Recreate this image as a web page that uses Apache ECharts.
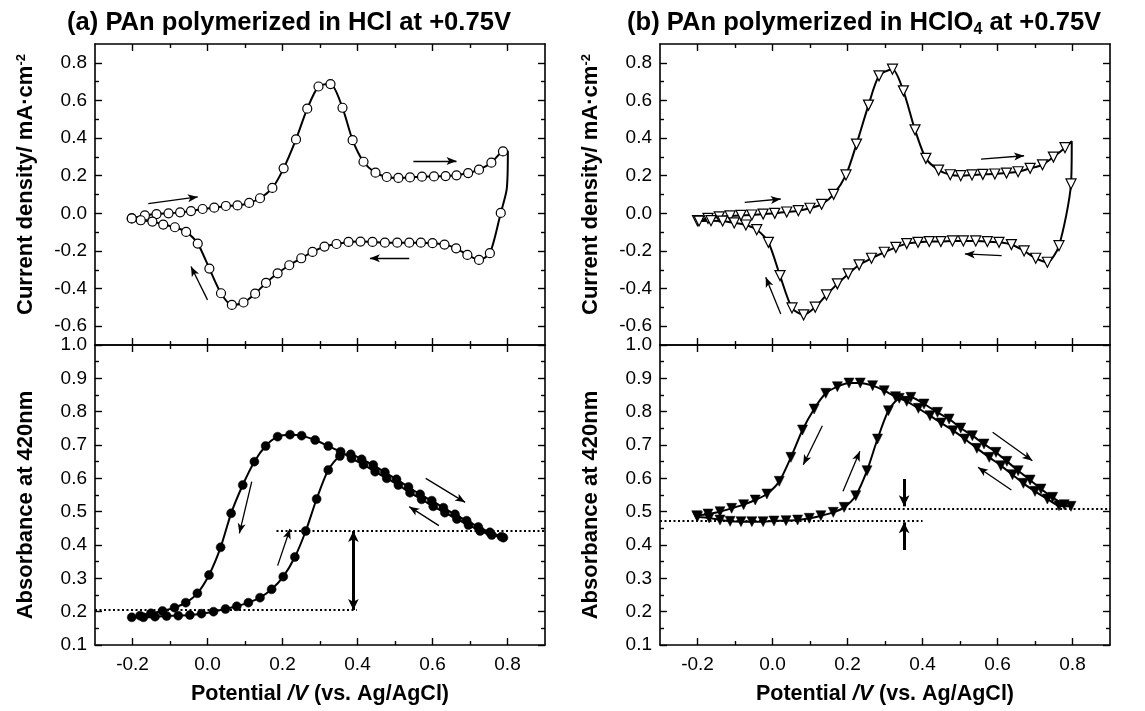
<!DOCTYPE html>
<html>
<head>
<meta charset="utf-8">
<title>PAn cyclic voltammetry and absorbance at 420 nm</title>
<script src="https://cdn.jsdelivr.net/npm/echarts@6/dist/echarts.min.js"></script>
<style>
  html, body { margin: 0; padding: 0; background: #fff; }
  #chart { width: 1145px; height: 711px; }
</style>
</head>
<body>
<div id="chart"></div>
<script>
// ---- Potential axis (V vs. Ag/AgCl) ----
const potentialTicks = [-0.2, 0.0, 0.2, 0.4, 0.6, 0.8];
const potentialMinorTicks = [-0.1, 0.1, 0.3, 0.5, 0.7];
const currentTicks = [-0.6, -0.4, -0.2, 0.0, 0.2, 0.4, 0.6, 0.8];
const currentMinorTicks = [-0.5, -0.3, -0.1, 0.1, 0.3, 0.5, 0.7];
const absTicks = [0.1, 0.2, 0.3, 0.4, 0.5, 0.6, 0.7, 0.8, 0.9, 1.0];
const absMinorTicks = [0.15, 0.25, 0.35, 0.45, 0.55, 0.65, 0.75, 0.85, 0.95];

// ---- (a) HCl film: cyclic voltammogram [E, j] ----
const cvA_anodic = [[-0.202,-0.027],[-0.167,-0.011],[-0.136,-0.004],[-0.104,0.000],[-0.073,0.005],[-0.044,0.012],[-0.013,0.023],[0.018,0.030],[0.049,0.039],[0.080,0.042],[0.111,0.055],[0.140,0.080],[0.173,0.135],[0.203,0.239],[0.236,0.393],[0.266,0.556],[0.296,0.674],[0.328,0.687],[0.360,0.561],[0.387,0.389],[0.416,0.274],[0.448,0.216],[0.478,0.193],[0.509,0.188],[0.540,0.191],[0.572,0.195],[0.604,0.196],[0.635,0.198],[0.664,0.202],[0.695,0.214],[0.724,0.232],[0.757,0.269],[0.788,0.329]];
const cvA_turn = [[0.801,0.330],[0.798,0.130]];
const cvA_cathodic = [[0.782,0.002],[0.753,-0.212],[0.724,-0.248],[0.693,-0.221],[0.663,-0.186],[0.632,-0.166],[0.600,-0.159],[0.569,-0.156],[0.538,-0.156],[0.506,-0.156],[0.473,-0.156],[0.440,-0.152],[0.408,-0.150],[0.376,-0.152],[0.344,-0.163],[0.312,-0.177],[0.280,-0.205],[0.250,-0.239],[0.218,-0.276],[0.187,-0.319],[0.156,-0.370],[0.127,-0.427],[0.096,-0.474],[0.065,-0.487],[0.036,-0.425],[0.005,-0.294],[-0.026,-0.161],[-0.057,-0.099],[-0.087,-0.074],[-0.118,-0.060],[-0.147,-0.044],[-0.178,-0.037],[-0.202,-0.027]];

// ---- (a) HCl film: absorbance at 420 nm [E, A] ----
const absA_forward = [[-0.202,0.183],[-0.171,0.183],[-0.140,0.185],[-0.109,0.187],[-0.078,0.188],[-0.047,0.190],[-0.016,0.194],[0.016,0.200],[0.048,0.208],[0.078,0.216],[0.109,0.227],[0.140,0.242],[0.171,0.267],[0.202,0.305],[0.233,0.364],[0.262,0.442],[0.291,0.538],[0.322,0.625],[0.353,0.667],[0.382,0.672],[0.411,0.657],[0.442,0.640],[0.473,0.618],[0.504,0.597],[0.536,0.574],[0.567,0.552],[0.598,0.533],[0.629,0.512],[0.660,0.492],[0.691,0.473],[0.722,0.454],[0.753,0.438],[0.784,0.425]];
const absA_reverse = [[0.789,0.422],[0.758,0.430],[0.727,0.442],[0.696,0.460],[0.665,0.478],[0.633,0.497],[0.602,0.516],[0.571,0.537],[0.540,0.557],[0.509,0.580],[0.478,0.600],[0.447,0.620],[0.416,0.641],[0.384,0.660],[0.355,0.680],[0.322,0.697],[0.287,0.715],[0.251,0.728],[0.220,0.731],[0.187,0.725],[0.155,0.697],[0.125,0.650],[0.094,0.580],[0.063,0.495],[0.035,0.393],[0.004,0.310],[-0.027,0.255],[-0.058,0.227],[-0.088,0.212],[-0.120,0.202],[-0.151,0.195],[-0.180,0.188]];

// ---- (b) HClO4 film: cyclic voltammogram [E, j] ----
const cvB_anodic = [[-0.200,-0.039],[-0.172,-0.027],[-0.142,-0.019],[-0.113,-0.014],[-0.084,-0.011],[-0.055,-0.009],[-0.025,-0.004],[0.006,0.000],[0.038,0.007],[0.069,0.014],[0.100,0.027],[0.131,0.048],[0.163,0.101],[0.196,0.204],[0.224,0.368],[0.256,0.575],[0.284,0.731],[0.320,0.766],[0.349,0.651],[0.380,0.444],[0.409,0.292],[0.443,0.230],[0.474,0.205],[0.502,0.200],[0.532,0.204],[0.561,0.207],[0.593,0.209],[0.624,0.214],[0.655,0.221],[0.687,0.239],[0.720,0.258],[0.749,0.299],[0.780,0.349]];
const cvB_turn = [[0.798,0.383]];
const cvB_cathodic = [[0.796,0.156],[0.764,-0.172],[0.733,-0.260],[0.702,-0.239],[0.671,-0.200],[0.637,-0.166],[0.604,-0.154],[0.573,-0.150],[0.542,-0.147],[0.509,-0.147],[0.480,-0.147],[0.449,-0.150],[0.418,-0.150],[0.388,-0.154],[0.358,-0.161],[0.329,-0.181],[0.298,-0.207],[0.264,-0.239],[0.231,-0.274],[0.202,-0.322],[0.173,-0.375],[0.144,-0.434],[0.114,-0.499],[0.083,-0.540],[0.052,-0.503],[0.020,-0.331],[-0.011,-0.154],[-0.042,-0.087],[-0.071,-0.062],[-0.102,-0.051],[-0.133,-0.041],[-0.164,-0.039],[-0.196,-0.041]];

// ---- (b) HClO4 film: absorbance at 420 nm [E, A] ----
const absB_forward = [[-0.200,0.485],[-0.169,0.481],[-0.140,0.475],[-0.113,0.471],[-0.084,0.470],[-0.055,0.470],[-0.025,0.470],[0.004,0.472],[0.036,0.473],[0.067,0.475],[0.098,0.480],[0.129,0.488],[0.162,0.498],[0.191,0.513],[0.222,0.548],[0.252,0.623],[0.280,0.718],[0.309,0.803],[0.338,0.840],[0.369,0.843],[0.404,0.823],[0.440,0.798],[0.471,0.778],[0.502,0.751],[0.533,0.728],[0.564,0.703],[0.596,0.678],[0.625,0.651],[0.655,0.623],[0.687,0.595],[0.716,0.568],[0.747,0.543],[0.778,0.521],[0.796,0.516]];
const absB_reverse = [[0.764,0.518],[0.733,0.538],[0.700,0.561],[0.669,0.585],[0.640,0.611],[0.609,0.638],[0.578,0.663],[0.545,0.690],[0.513,0.718],[0.482,0.743],[0.450,0.766],[0.420,0.788],[0.389,0.810],[0.358,0.831],[0.328,0.845],[0.298,0.863],[0.267,0.878],[0.234,0.886],[0.204,0.886],[0.173,0.875],[0.142,0.855],[0.111,0.808],[0.080,0.745],[0.049,0.663],[0.018,0.591],[-0.015,0.553],[-0.046,0.535],[-0.077,0.521],[-0.109,0.510],[-0.140,0.500],[-0.172,0.493],[-0.202,0.488]];

// ---- scan-direction arrows [E1, y1, E2, y2] (head at the second point) ----
const cvA_arrows = [[-0.158,0.051,-0.026,0.087],[0.549,0.278,0.664,0.278],[0.538,-0.239,0.433,-0.239],[0.000,-0.460,-0.044,-0.283]];
const absA_arrows = [[0.118,0.590,0.085,0.435],[0.187,0.338,0.220,0.448],[0.582,0.600,0.687,0.528],[0.617,0.458,0.538,0.515]];
const cvB_arrows = [[-0.074,0.058,0.022,0.076],[0.556,0.288,0.671,0.306],[0.611,-0.225,0.513,-0.216],[0.022,-0.535,-0.018,-0.340]];
const absB_arrows = [[0.133,0.758,0.082,0.641],[0.188,0.561,0.233,0.681],[0.587,0.738,0.693,0.653],[0.637,0.565,0.548,0.633]];

// ---- baseline levels (dotted) [E1, E2, A] and the offset markers ----
const absA_levels = [[-0.3,0.398,0.205],[0.184,0.9,0.442]];
const absA_gap = [0.389, 0.205, 0.442];          // double-headed arrow: E, A_low, A_high
const absB_levels = [[-0.3,0.400,0.473],[0.191,0.9,0.508]];
const absB_pointers = [[0.351,0.598,0.516],[0.351,0.385,0.468]]; // E, from A, to A

const FONT = "'Liberation Sans', Arial, Helvetica, sans-serif";
const BLACK = '#000';

const grids = [
  { left: 95,  top: 44,  width: 450, height: 301 },
  { left: 95,  top: 345, width: 450, height: 300 },
  { left: 660, top: 44,  width: 450, height: 301 },
  { left: 660, top: 345, width: 450, height: 300 }
];

const xAxes = [];
const yAxes = [];
const MAJOR = 7, MINOR = 4;
const TICK_FONT = 19;

function addX(gi, position, ticks, len, labels, name) {
  xAxes.push({
    type: 'value', gridIndex: gi, position: position, min: -0.3, max: 0.9,
    axisLine: { show: len === MAJOR, onZero: false, lineStyle: { color: BLACK, width: 1.6 } },
    axisTick: { show: true, inside: true, length: len, customValues: ticks, lineStyle: { color: BLACK, width: 1.4 } },
    axisLabel: labels ? { show: true, customValues: ticks, formatter: v => v.toFixed(1), color: BLACK, fontSize: TICK_FONT, fontFamily: FONT, margin: 10 } : { show: false },
    splitLine: { show: false },
    name: name || '', nameLocation: 'middle', nameGap: 38,
    nameTextStyle: { color: BLACK, fontSize: 21.5, fontWeight: 'bold', fontFamily: FONT,
      rich: { i: { fontSize: 21.5, fontWeight: 'bold', fontStyle: 'italic', fontFamily: FONT, color: BLACK } } }
  });
  return xAxes.length - 1;
}

function addY(gi, position, range, ticks, len, labels, name, pad) {
  yAxes.push({
    type: 'value', gridIndex: gi, position: position, min: range[0], max: range[1],
    axisLine: { show: len === MAJOR, onZero: false, lineStyle: { color: BLACK, width: 1.6 } },
    axisTick: { show: true, inside: true, length: len, customValues: ticks, lineStyle: { color: BLACK, width: 1.4 } },
    axisLabel: labels ? { show: true, customValues: ticks, formatter: v => v.toFixed(1), color: BLACK, fontSize: TICK_FONT, fontFamily: FONT, margin: 8 } : { show: false },
    splitLine: { show: false },
    name: name || '', nameLocation: 'middle', nameGap: 58,
    nameTextStyle: { color: BLACK, fontSize: 22, fontWeight: 'bold', fontFamily: FONT, padding: pad || 0,
      rich: { sup: { fontSize: 13, fontWeight: 'bold', fontFamily: FONT, color: BLACK, verticalAlign: 'top' } } }
  });
  return yAxes.length - 1;
}

const cvName = 'Current density/ mA·cm{sup|-2}';
const absName = 'Absorbance at 420nm';
const potName = 'Potential {i|/V} (vs. Ag/AgCl)';

// Build the boxed frame of one panel; returns the axis indices that carry the data.
function panel(gi, kind) {
  const isCV = kind === 'cv';
  const range = isCV ? [-0.7, 0.9] : [0.1, 1.0];
  const yMaj = isCV ? currentTicks : absTicks;
  const yMin = isCV ? currentMinorTicks : absMinorTicks;
  const xi = addX(gi, 'bottom', potentialTicks, MAJOR, !isCV, isCV ? '' : potName);
  addX(gi, 'bottom', potentialMinorTicks, MINOR, false);
  addX(gi, 'top', potentialTicks, MAJOR, false);
  addX(gi, 'top', potentialMinorTicks, MINOR, false);
  const yi = addY(gi, 'left', range, yMaj, MAJOR, true, isCV ? cvName : absName, isCV ? [0, 0, 0, 20] : [0, 20, 0, 0]);
  addY(gi, 'left', range, yMin, MINOR, false);
  addY(gi, 'right', range, yMaj, MAJOR, false);
  addY(gi, 'right', range, yMin, MINOR, false);
  return { xi, yi };
}

function arrowLines(list) {
  return list.map(a => [
    { coord: [a[0], a[1]], symbol: 'none', lineStyle: { color: BLACK, width: 1.3, type: 'solid' } },
    { coord: [a[2], a[3]], symbol: 'arrow', symbolSize: [6, 10] }
  ]);
}
function levelLines(list) {
  return list.map(l => [
    { coord: [l[0], l[2]], symbol: 'none', lineStyle: { color: BLACK, width: 2, type: [2, 2.5] } },
    { coord: [l[1], l[2]], symbol: 'none' }
  ]);
}

function curve(parts) {
  // parts: [points, showMarker]
  const out = [];
  parts.forEach(([pts, marked]) => pts.forEach(p => out.push(marked ? p : { value: p, symbol: 'none' })));
  return out;
}

function seriesFor(ax, data, marker, extraLines) {
  return {
    type: 'line', xAxisIndex: ax.xi, yAxisIndex: ax.yi, data: data,
    smooth: 0.25, symbol: marker.symbol, symbolSize: marker.size, symbolRotate: marker.rotate || 0,
    lineStyle: { color: BLACK, width: 2 },
    itemStyle: { color: marker.fill, borderColor: BLACK, borderWidth: marker.border },
    z: 3, silent: true, animation: false,
    markLine: { silent: true, animation: false, symbol: ['none', 'none'], label: { show: false },
      lineStyle: { color: BLACK, width: 1.3, type: 'solid' }, data: extraLines }
  };
}

const axA1 = panel(0, 'cv');
const axA2 = panel(1, 'abs');
const axB1 = panel(2, 'cv');
const axB2 = panel(3, 'abs');

const openCircle = { symbol: 'circle', size: 9, fill: '#fff', border: 1.2 };
const filledCircle = { symbol: 'circle', size: 9, fill: '#000', border: 0.5 };
const openTriangle = { symbol: 'triangle', size: 10, rotate: 180, fill: '#fff', border: 1.2 };
const filledTriangle = { symbol: 'triangle', size: 10, rotate: 180, fill: '#000', border: 0.5 };

const gapLines = [[
  { coord: [absA_gap[0], absA_gap[1]], symbol: 'arrow', symbolSize: [8, 11], lineStyle: { color: BLACK, width: 3, type: 'solid' } },
  { coord: [absA_gap[0], absA_gap[2]], symbol: 'arrow', symbolSize: [8, 11] }
]];
const pointerLines = absB_pointers.map(p => [
  { coord: [p[0], p[1]], symbol: 'none', lineStyle: { color: BLACK, width: 3, type: 'solid' } },
  { coord: [p[0], p[2]], symbol: 'arrow', symbolSize: [8, 11] }
]);

const series = [
  seriesFor(axA1, curve([[cvA_anodic, true], [cvA_turn, false], [cvA_cathodic, true]]), openCircle, arrowLines(cvA_arrows)),
  seriesFor(axA2, curve([[absA_forward, true], [absA_reverse, true]]), filledCircle,
    arrowLines(absA_arrows).concat(levelLines(absA_levels), gapLines)),
  seriesFor(axB1, curve([[cvB_anodic, true], [cvB_turn, false], [cvB_cathodic, true]]), openTriangle, arrowLines(cvB_arrows)),
  seriesFor(axB2, curve([[absB_forward, true], [absB_reverse, true]]), filledTriangle,
    arrowLines(absB_arrows).concat(levelLines(absB_levels), pointerLines))
];

const titleStyle = {
  fill: BLACK, fontSize: 25.6, fontWeight: 'bold', fontFamily: FONT,
  textVerticalAlign: 'middle', verticalAlign: 'middle', textAlign: 'left', align: 'left',
  rich: { sub: { fontSize: 16, fontWeight: 'bold', fontFamily: FONT, fill: BLACK, verticalAlign: 'bottom', padding: [14, 0, 0, 0] } }
};

const chart = echarts.init(document.getElementById('chart'), null, { renderer: 'canvas' });
chart.setOption({
  backgroundColor: '#fff',
  animation: false,
  grid: grids.map(g => Object.assign({ containLabel: false }, g)),
  xAxis: xAxes,
  yAxis: yAxes,
  series: series,
  graphic: [
    { type: 'text', x: 67, y: 23, silent: true, style: Object.assign({ text: '(a) PAn polymerized in HCl at +0.75V' }, titleStyle) },
    { type: 'text', x: 627, y: 23, silent: true, style: Object.assign({ text: '(b) PAn polymerized in HClO{sub|4} at +0.75V' }, titleStyle) }
  ]
});
</script>
</body>
</html>
